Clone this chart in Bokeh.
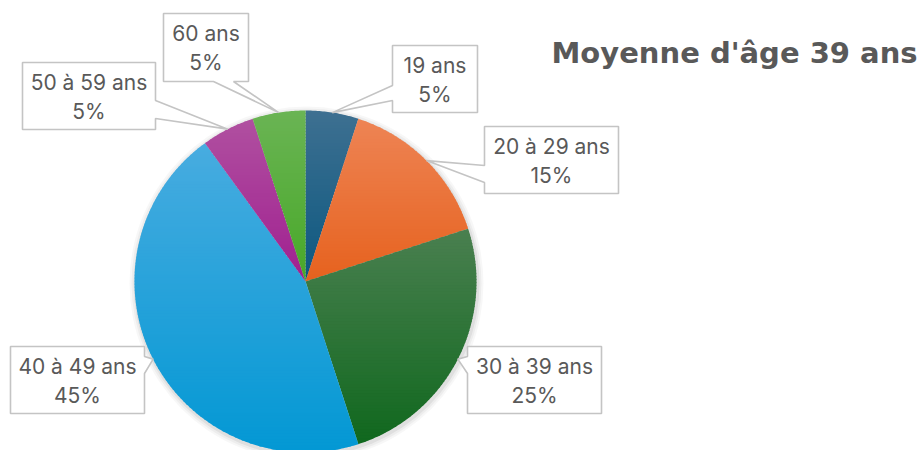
import math
from bokeh.plotting import figure
from bokeh.models import Range1d
from bokeh.core.properties import value
from bokeh.embed import file_html
from bokeh.resources import INLINE

# ---- data ----
categories = ["19 ans", "20 à 29 ans", "30 à 39 ans", "40 à 49 ans", "50 à 59 ans", "60 ans"]
shares = [5, 15, 25, 45, 5, 5]
pct_labels = ["5%", "15%", "25%", "45%", "5%", "5%"]
title_text = "Moyenne d'âge 39 ans"

# ---- style ----
top_colors = ["#3e7091", "#ee8454", "#4a8050", "#48ace0", "#b050a0", "#6ab454"]
bot_colors = ["#0c5880", "#e6621e", "#10681e", "#0398d4", "#a02090", "#48a828"]
TEXT = "#595959"
BORDER = "#c4c4c4"
FONT = "Inter"

# layout (page pixels): pie centre/radius and label boxes
CX, CY, R = 305, 281, 171
boxes = [  # x0, x1, y0, y1, notch side, notch a, notch b
    (392, 477, 45, 112, "left", 85, 100),
    (484, 618, 126, 193, "left", 165, 182),
    (467, 601, 346, 413, "left", 356, 373),
    (10, 144, 346, 413, "right", 356, 373),
    (22, 155, 62, 129, "right", 100, 118),
    (163, 248, 13, 81, "bottom", 213, 233),
]

W, H = 923, 450
p = figure(width=W, height=H, x_range=Range1d(0, W), y_range=Range1d(H, 0),
           output_backend="svg", toolbar_location=None, min_border=0)
p.axis.visible = False
p.grid.visible = False
p.outline_line_color = None
p.background_fill_color = "white"
p.border_fill_color = "white"

# soft shadow
for k, a in [(6, 0.03), (4, 0.04), (2, 0.06)]:
    p.circle(x=[CX + 1], y=[CY + 2], radius=R + k, fill_color="black", fill_alpha=a, line_color=None)


def pt(theta, r=R):
    return CX + r * math.sin(theta), CY - r * math.cos(theta)


def clip(poly, ymin, ymax):
    def clip_half(pts, keep, inter):
        out = []
        n = len(pts)
        for i in range(n):
            a, b = pts[i], pts[(i + 1) % n]
            ka, kb = keep(a), keep(b)
            if ka:
                out.append(a)
            if ka != kb:
                out.append(inter(a, b))
        return out

    def ix(yv):
        def f(a, b):
            t = (yv - a[1]) / (b[1] - a[1])
            return (a[0] + t * (b[0] - a[0]), yv)
        return f

    q = clip_half(poly, lambda q: q[1] >= ymin, ix(ymin))
    if not q:
        return q
    return clip_half(q, lambda q: q[1] <= ymax, ix(ymax))


def hex2rgb(h):
    return tuple(int(h[i:i + 2], 16) for i in (1, 3, 5))


def mix(c1, c2, t):
    a, b = hex2rgb(c1), hex2rgb(c2)
    return "#%02x%02x%02x" % tuple(int(round(a[i] + (b[i] - a[i]) * t)) for i in range(3))


total = sum(shares)
start = 0.0
xs_all, ys_all, cols = [], [], []
mids = []
for i, v in enumerate(shares):
    a0 = start
    a1 = start + v / total * 2 * math.pi
    mids.append((a0 + a1) / 2)
    start = a1
    n = max(4, int((a1 - a0) / 0.01))
    poly = [(CX, CY)] + [pt(a0 + (a1 - a0) * j / n) for j in range(n + 1)]
    ymin = min(q[1] for q in poly)
    ymax = max(q[1] for q in poly)
    step = 3.0
    y = ymin
    while y < ymax:
        y2 = min(y + step, ymax)
        band = clip(poly, y - 0.4, y2 + 0.4)
        if len(band) >= 3:
            t = ((y + y2) / 2 - ymin) / (ymax - ymin)
            c = mix(top_colors[i], bot_colors[i], t)
            xs_all.append([q[0] for q in band])
            ys_all.append([q[1] for q in band])
            cols.append(c)
        y = y2

p.patches(xs=xs_all, ys=ys_all, fill_color=cols, line_color=None)

# callout boxes
bx, by = [], []
tx, ty1, ty2 = [], [], []
for i, (x0, x1, y0, y1, side, na, nb) in enumerate(boxes):
    tip = pt(mids[i])
    if side == "left":
        pts = [(x0, y0), (x1, y0), (x1, y1), (x0, y1), (x0, nb), tip, (x0, na)]
    elif side == "right":
        pts = [(x0, y0), (x1, y0), (x1, na), tip, (x1, nb), (x1, y1), (x0, y1)]
    else:
        pts = [(x0, y0), (x1, y0), (x1, y1), (nb, y1), tip, (na, y1), (x0, y1)]
    bx.append([q[0] for q in pts])
    by.append([q[1] for q in pts])
    tx.append((x0 + x1) / 2)
    yc = (y0 + y1) / 2
    ty1.append(yc - 14)
    ty2.append(yc + 15)

p.patches(xs=bx, ys=by, fill_color="white", line_color=BORDER, line_width=1.6)
p.text(x=tx, y=ty1, text=categories, text_font=value(FONT), text_font_size="21px",
       text_color=TEXT, text_align="center", text_baseline="middle")
p.text(x=tx, y=ty2, text=pct_labels, text_font=value(FONT), text_font_size="21px",
       text_color=TEXT, text_align="center", text_baseline="middle")

p.text(x=[551], y=[52], text=[title_text], text_font=value("DejaVu Sans"), text_font_size="29px",
       text_font_style="bold", text_color=TEXT, text_align="left", text_baseline="alphabetic")

open("out.html", "w").write(file_html(p, INLINE))
